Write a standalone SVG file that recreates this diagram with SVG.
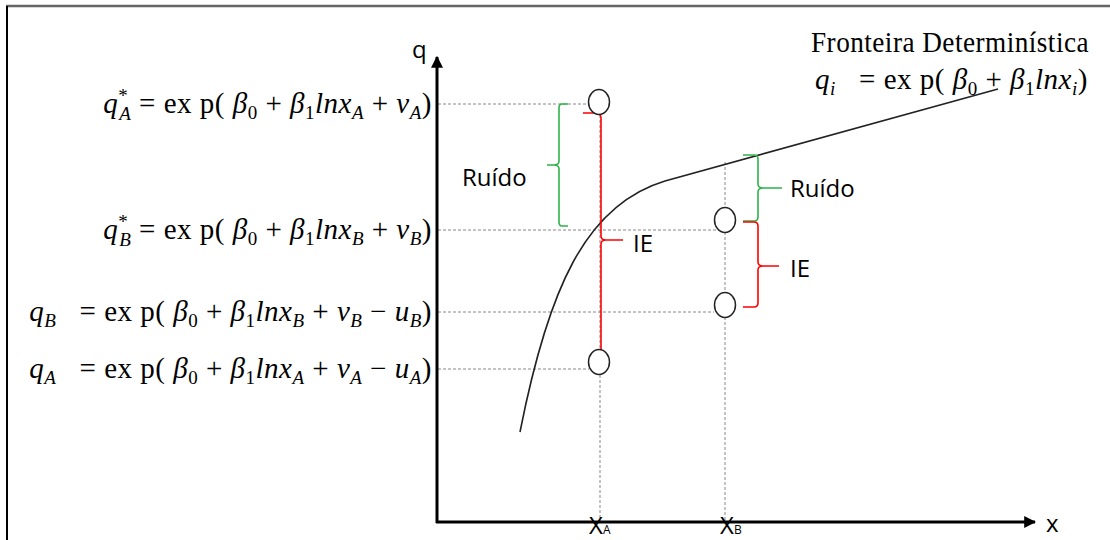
<svg xmlns="http://www.w3.org/2000/svg" width="1110" height="540" viewBox="0 0 1110 540">
<defs>
<marker id="ah" viewBox="0 0 10 10" refX="9" refY="5" markerWidth="4" markerHeight="4" orient="auto-start-reverse" markerUnits="strokeWidth">
<path d="M0,0 L10,5 L0,10 z" fill="#000"/>
</marker>
<style>
.eq{font-family:"Liberation Serif","DejaVu Serif",serif;font-size:29px;fill:#000;letter-spacing:0.5px}
.it{font-style:italic}
.sb{font-size:19px}
.lbl{font-family:"Open Sans","Liberation Sans",sans-serif;font-size:24px;fill:#000}
.dash{stroke:#888;stroke-width:1;stroke-dasharray:3,2;fill:none}
.pt{fill:#fff;stroke:#222;stroke-width:1.5}
.red{stroke:#f00;stroke-width:1.6;fill:none}
.grn{stroke:#2db34a;stroke-width:1.6;fill:none}
</style>
</defs>
<rect width="1110" height="540" fill="#fff"/>
<g id="frame">
<line x1="6" y1="6" x2="1110" y2="6" stroke="#666" stroke-width="2.5"/>
<line x1="7" y1="6" x2="7" y2="540" stroke="#000" stroke-width="2"/>
</g>
<g id="guides">
<line class="dash" x1="438" y1="104" x2="589" y2="104"/>
<line class="dash" x1="438" y1="230" x2="720" y2="230"/>
<line class="dash" x1="438" y1="312" x2="714" y2="312"/>
<line class="dash" x1="438" y1="369" x2="589" y2="369"/>
<line class="dash" x1="600" y1="115" x2="600" y2="522"/>
<line class="dash" x1="725" y1="162" x2="725" y2="522"/>
</g>
<g id="axes">
<line x1="437" y1="523" x2="437" y2="57" stroke="#000" stroke-width="3" marker-end="url(#ah)"/>
<line x1="436" y1="522" x2="1035" y2="522" stroke="#000" stroke-width="3" marker-end="url(#ah)"/>
<text class="lbl" x="412" y="58" font-size="20">q</text>
<text class="lbl" x="1046" y="532" font-size="20">x</text>
<text class="lbl" x="589" y="534" font-size="17">X<tspan font-size="12">A</tspan></text>
<text class="lbl" x="720" y="534" font-size="17">X<tspan font-size="12">B</tspan></text>
</g>
<g id="frontier">
<path d="M520,432 C548,290 585,205 665,181 L998,89" fill="none" stroke="#222" stroke-width="1.6"/>
<text class="eq" x="811" y="52" font-size="27" textLength="278" lengthAdjust="spacingAndGlyphs">Fronteira Determinística</text>
<text class="eq" x="815" y="89"><tspan class="it">q</tspan><tspan class="sb it" dy="6">i</tspan><tspan dy="-6" xml:space="preserve">   = ex p( </tspan><tspan class="it">β</tspan><tspan class="sb" dy="6">0</tspan><tspan dy="-6"> + </tspan><tspan class="it">β</tspan><tspan class="sb" dy="6">1</tspan><tspan class="it" dy="-6">lnx</tspan><tspan class="sb it" dy="6">i</tspan><tspan dy="-6">)</tspan></text>
</g>
<g id="eqA-star">
<text class="eq" x="432" y="113" text-anchor="end"><tspan class="it">q</tspan><tspan class="sb" dy="-11">*</tspan><tspan class="sb it" dx="-9" dy="18">A</tspan><tspan dy="-7"> = ex p( </tspan><tspan class="it">β</tspan><tspan class="sb" dy="6">0</tspan><tspan dy="-6"> + </tspan><tspan class="it">β</tspan><tspan class="sb" dy="6">1</tspan><tspan class="it" dy="-6">lnx</tspan><tspan class="sb it" dy="6">A</tspan><tspan dy="-6"> + </tspan><tspan class="it">v</tspan><tspan class="sb it" dy="6">A</tspan><tspan dy="-6">)</tspan></text>
</g>
<g id="eqB-star">
<text class="eq" x="432" y="239" text-anchor="end"><tspan class="it">q</tspan><tspan class="sb" dy="-11">*</tspan><tspan class="sb it" dx="-9" dy="18">B</tspan><tspan dy="-7"> = ex p( </tspan><tspan class="it">β</tspan><tspan class="sb" dy="6">0</tspan><tspan dy="-6"> + </tspan><tspan class="it">β</tspan><tspan class="sb" dy="6">1</tspan><tspan class="it" dy="-6">lnx</tspan><tspan class="sb it" dy="6">B</tspan><tspan dy="-6"> + </tspan><tspan class="it">v</tspan><tspan class="sb it" dy="6">B</tspan><tspan dy="-6">)</tspan></text>
</g>
<g id="eqB">
<text class="eq" x="432" y="321" text-anchor="end"><tspan class="it">q</tspan><tspan class="sb it" dy="6">B</tspan><tspan dy="-6" xml:space="preserve">   = ex p( </tspan><tspan class="it">β</tspan><tspan class="sb" dy="6">0</tspan><tspan dy="-6"> + </tspan><tspan class="it">β</tspan><tspan class="sb" dy="6">1</tspan><tspan class="it" dy="-6">lnx</tspan><tspan class="sb it" dy="6">B</tspan><tspan dy="-6"> + </tspan><tspan class="it">v</tspan><tspan class="sb it" dy="6">B</tspan><tspan dy="-6"> − </tspan><tspan class="it">u</tspan><tspan class="sb it" dy="6">B</tspan><tspan dy="-6">)</tspan></text>
</g>
<g id="eqA">
<text class="eq" x="432" y="378" text-anchor="end"><tspan class="it">q</tspan><tspan class="sb it" dy="6">A</tspan><tspan dy="-6" xml:space="preserve">   = ex p( </tspan><tspan class="it">β</tspan><tspan class="sb" dy="6">0</tspan><tspan dy="-6"> + </tspan><tspan class="it">β</tspan><tspan class="sb" dy="6">1</tspan><tspan class="it" dy="-6">lnx</tspan><tspan class="sb it" dy="6">A</tspan><tspan dy="-6"> + </tspan><tspan class="it">v</tspan><tspan class="sb it" dy="6">A</tspan><tspan dy="-6"> − </tspan><tspan class="it">u</tspan><tspan class="sb it" dy="6">A</tspan><tspan dy="-6">)</tspan></text>
</g>
<g id="braces">
<path class="red" d="M583,113 L597,113 Q601,114 601,118 L601,236 Q601,240 606,240 L623,240 M606,240 Q601,240 601,244 L601,372"/>
<path class="grn" d="M568,104 L562,104 Q559,104 559,108 L559,161 Q559,165 554,165 L547,165 M554,165 Q559,165 559,169 L559,222 Q559,226 562,226 L568,226"/>
<path class="grn" d="M743,155 L754,155 Q758,155 758,159 L758,184 Q758,188 763,188 L782,188 M763,188 Q758,188 758,192 L758,217 Q758,221 754,221 L743,221"/>
<path class="red" d="M743,222 L754,222 Q758,222 758,226 L758,262 Q758,266 763,266 L779,266 M763,266 Q758,266 758,270 L758,303 Q758,307 754,307 L743,307"/>
<text class="lbl" x="462" y="186">Ruído</text>
<text class="lbl" x="633" y="252">IE</text>
<text class="lbl" x="790" y="197">Ruído</text>
<text class="lbl" x="790" y="277">IE</text>
</g>
<g id="points">
<ellipse class="pt" cx="599" cy="102" rx="10.5" ry="12.5"/>
<ellipse class="pt" cx="725" cy="220" rx="10.5" ry="12.5"/>
<ellipse class="pt" cx="725" cy="305" rx="10.5" ry="12.5"/>
<ellipse class="pt" cx="599" cy="362" rx="10.5" ry="12.5"/>
</g>
</svg>
